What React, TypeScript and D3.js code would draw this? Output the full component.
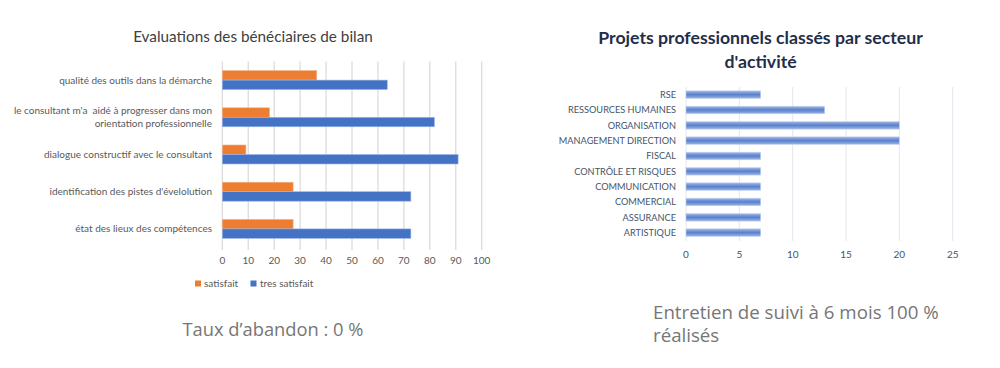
import React from 'react';
import * as d3 from 'd3';

// left chart
const evalCategories = [
  'qualité des outils dans la démarche',
  "le consultant m'a  aidé à progresser dans mon|orientation professionnelle",
  'dialogue constructif avec le consultant',
  "identification des pistes d'évelolution",
  'état des lieux des compétences',
];
const satisfait = [36.4, 18.2, 9.1, 27.3, 27.3];
const tresSatisfait = [63.6, 81.8, 90.9, 72.7, 72.7];
const evalTicks = [0, 10, 20, 30, 40, 50, 60, 70, 80, 90, 100];

// right chart
const secteurs = [
  'RSE',
  'RESSOURCES HUMAINES',
  'ORGANISATION',
  'MANAGEMENT DIRECTION',
  'FISCAL',
  'CONTRÔLE ET RISQUES',
  'COMMUNICATION',
  'COMMERCIAL',
  'ASSURANCE',
  'ARTISTIQUE',
];
const projets = [7, 13, 20, 20, 7, 7, 7, 7, 7, 7];
const projetTicks = [0, 5, 10, 15, 20, 25];

const LABEL_FONT = 'Lato, "Open Sans", sans-serif';
const NOTE_FONT = '"Open Sans", sans-serif';

function EvalChart() {
  const x = d3.scaleLinear().domain([0, 100]).range([222.3, 481.7]);
  const y = d3.scaleBand<string>()
    .domain(evalCategories)
    .range([61.5, 247.5])
    .paddingInner(0.49)
    .paddingOuter(0.245);
  const bh = y.bandwidth() / 2;

  return (
    <g>
      <text x={253} y={41.5} textAnchor="middle" fontFamily={LABEL_FONT} fontSize={15.3} fill="#404040">
        Evaluations des bénéciaires de bilan
      </text>
      {evalTicks.map((t) => (
        <g key={t}>
          <line x1={x(t)} x2={x(t)} y1={61.5} y2={250} stroke="#d9d9d9" strokeWidth={1.2} />
          <text x={x(t)} y={264} textAnchor="middle" fontFamily={LABEL_FONT} fontSize={10} fill="#595959">
            {t}
          </text>
        </g>
      ))}
      {evalCategories.map((c, i) => {
        const y0 = y(c)!;
        const lines = c.split('|');
        const cy = y0 + y.bandwidth() / 2;
        return (
          <g key={c}>
            <rect x={x(0)} y={y0} width={x(satisfait[i]) - x(0)} height={bh}
              fill="#ed7d31" stroke="#f4b183" strokeWidth={0.6} />
            <rect x={x(0)} y={y0 + bh} width={x(tresSatisfait[i]) - x(0)} height={bh}
              fill="#4472c4" stroke="#9db6e6" strokeWidth={0.6} />
            {lines.map((l, k) => (
              <text key={k} x={212} y={cy + 3.5 + (k - (lines.length - 1) / 2) * 13}
                textAnchor="end" fontFamily={LABEL_FONT} fontSize={10} fill="#595959"
                style={{ whiteSpace: 'pre' }}>
                {l}
              </text>
            ))}
          </g>
        );
      })}
      <rect x={195} y={280.5} width={6} height={6} fill="#ed7d31" />
      <text x={204} y={287} fontFamily={LABEL_FONT} fontSize={10} fill="#595959">satisfait</text>
      <rect x={250.5} y={280.5} width={6} height={6} fill="#4472c4" />
      <text x={260} y={287} fontFamily={LABEL_FONT} fontSize={10} fill="#595959">tres satisfait</text>
      <text x={182.5} y={336} fontFamily={NOTE_FONT} fontSize={18.3} fill="#767676">
        Taux d’abandon : 0 %
      </text>
    </g>
  );
}

function ProjetChart() {
  const x = d3.scaleLinear().domain([0, 25]).range([686, 952.7]);
  const y = d3.scaleBand<string>()
    .domain(secteurs)
    .range([87, 240.3])
    .paddingInner(0.5)
    .paddingOuter(0.25);

  return (
    <g>
      <defs>
        <linearGradient id="barGrad" x1="0" y1="0" x2="0" y2="1">
          <stop offset="0%" stopColor="#a8bde6" />
          <stop offset="25%" stopColor="#7a9ad9" />
          <stop offset="50%" stopColor="#5b80cc" />
          <stop offset="75%" stopColor="#7a9ad9" />
          <stop offset="100%" stopColor="#a3b9e4" />
        </linearGradient>
      </defs>
      <text x={760.5} y={44} textAnchor="middle" fontFamily={LABEL_FONT} fontWeight="bold" fontSize={17.7} fill="#1f2e4a">
        Projets professionnels classés par secteur
      </text>
      <text x={760.5} y={67.5} textAnchor="middle" fontFamily={LABEL_FONT} fontWeight="bold" fontSize={17.7} fill="#1f2e4a">
        d'activité
      </text>
      {projetTicks.map((t) => (
        <g key={t}>
          <line x1={x(t)} x2={x(t)} y1={87} y2={241} stroke="#e3e7ef" strokeWidth={1} />
          <text x={x(t)} y={258} textAnchor="middle" fontFamily={LABEL_FONT} fontSize={10} fill="#44546a">
            {t}
          </text>
        </g>
      ))}
      {secteurs.map((s, i) => {
        const y0 = y(s)!;
        return (
          <g key={s}>
            <rect x={x(0)} y={y0} width={x(projets[i]) - x(0)} height={y.bandwidth()}
              fill="url(#barGrad)" stroke="#c5d3ee" strokeWidth={0.5} />
            <text x={676} y={y0 + y.bandwidth() / 2 + 3.3} textAnchor="end"
              fontFamily={LABEL_FONT} fontSize={9.2} fill="#44546a">
              {s}
            </text>
          </g>
        );
      })}
      <text x={653} y={318.5} fontFamily={NOTE_FONT} fontSize={18.7} fill="#767676">
        Entretien de suivi à 6 mois 100 %
      </text>
      <text x={653} y={342} fontFamily={NOTE_FONT} fontSize={18.7} fill="#767676">
        réalisés
      </text>
    </g>
  );
}

export default function App() {
  return (
    <div style={{ position: 'absolute', left: 0, top: 0 }}>
      <svg width={1000} height={368} style={{ display: 'block', background: '#fff' }}>
        <EvalChart />
        <ProjetChart />
      </svg>
    </div>
  );
}
